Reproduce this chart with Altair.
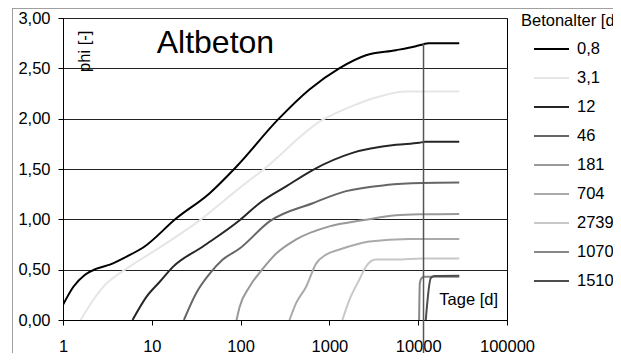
import altair as alt
import pandas as pd

# ---- data ----
ages = ["0,8", "3,1", "12", "46", "181", "704", "2739", "10702", "15105"]
colors = ["#000000", "#e6e6e6", "#262626", "#666666", "#999999",
          "#aaaaaa", "#c8c8c8", "#888888", "#4d4d4d"]

t_08 = [1, 1.31, 1.77, 2.39, 3.37, 5.2, 8.0, 18.9, 44.9, 89, 263, 596, 1290, 2580, 5620, 9400, 11500, 13000, 29000]
p_08 = [0.15, 0.33, 0.45, 0.51, 0.55, 0.63, 0.72, 1.01, 1.26, 1.52, 1.99, 2.29, 2.50, 2.63, 2.68, 2.72, 2.74, 2.75, 2.75]

t_31 = [1.58, 2.19, 2.84, 5.19, 11.3, 34.6, 97, 178, 842, 1540, 3660, 7260, 29000]
p_31 = [0.0, 0.20, 0.33, 0.51, 0.70, 0.99, 1.31, 1.49, 1.99, 2.10, 2.22, 2.27, 2.27]

t_12 = [6.07, 8.7, 12.3, 17.4, 37.7, 97.5, 163, 329, 648, 1820, 5620, 10250, 12000, 29000]
p_12 = [0.0, 0.23, 0.38, 0.53, 0.73, 0.99, 1.16, 1.33, 1.49, 1.66, 1.74, 1.76, 1.77, 1.77]

t_46 = [23, 31.8, 44.9, 63, 97.5, 212, 648, 1540, 4350, 11000, 29000]
p_46 = [0.0, 0.27, 0.46, 0.60, 0.71, 0.98, 1.16, 1.28, 1.34, 1.36, 1.365]

t_181 = [90, 97.5, 126, 178, 252, 422, 1000, 2370, 5600, 11000, 29000]
p_181 = [0.0, 0.13, 0.33, 0.51, 0.66, 0.80, 0.93, 0.99, 1.04, 1.05, 1.054]

t_704 = [355, 423, 547, 708, 918, 1300, 2820, 7900, 29000]
p_704 = [0.0, 0.17, 0.33, 0.56, 0.65, 0.70, 0.78, 0.805, 0.805]

t_2739 = [1400, 1680, 2170, 2580, 3320, 5600, 11200, 29000]
p_2739 = [0.0, 0.20, 0.40, 0.53, 0.60, 0.60, 0.61, 0.61]

t_10702 = [10240, 10430, 10800, 11700, 29000]
p_10702 = [0.0, 0.365, 0.41, 0.43, 0.43]

t_15105 = [12170, 13840, 15100, 29000]
p_15105 = [0.0, 0.415, 0.437, 0.44]

series_t = [t_08, t_31, t_12, t_46, t_181, t_704, t_2739, t_10702, t_15105]
series_p = [p_08, p_31, p_12, p_46, p_181, p_704, p_2739, p_10702, p_15105]

x_ticks = [1, 10, 100, 1000, 10000, 100000]
y_ticks = [0, 0.5, 1.0, 1.5, 2.0, 2.5, 3.0]

marker_t = 11480      # vertical marker line
marker_top = 2.745

rows = []
for k, (ts, ps) in enumerate(zip(series_t, series_p)):
    for i, (t, p) in enumerate(zip(ts, ps)):
        rows.append({"age": ages[k], "k": k, "i": i, "t": t, "phi": p})
df = pd.DataFrame(rows)

FONT = "Liberation Sans"
FS = 16.5

xscale = alt.Scale(type="log", domain=[1, 100000], nice=False)
yscale = alt.Scale(domain=[0, 3], nice=False, zero=False)

lines = alt.Chart(df).mark_line(strokeWidth=2, clip=True, interpolate="monotone").encode(
    x=alt.X("t:Q", scale=xscale,
            axis=alt.Axis(values=x_ticks, format="d", title=None, grid=False,
                          tickSize=5, labelPadding=13, labelFlush=False,
                          labelOverlap=False, domainColor="black", tickColor="black")),
    y=alt.Y("phi:Q", scale=yscale,
            axis=alt.Axis(values=y_ticks, title=None, grid=True, gridColor="#222222",
                          tickSize=5, labelPadding=8, labelFlush=False,
                          labelExpr="replace(format(datum.value, '.2f'), '.', ',')",
                          domainColor="black", tickColor="black")),
    color=alt.Color("age:N", sort=ages,
                    scale=alt.Scale(domain=ages, range=colors),
                    legend=alt.Legend(title="Betonalter [d]", orient="none",
                                      legendX=458, legendY=-5, padding=0,
                                      symbolType="stroke", symbolSize=1225,
                                      symbolStrokeWidth=2, clipHeight=29,
                                      rowPadding=0, titlePadding=5,
                                      symbolOffset=12, labelOffset=7,
                                      labelLimit=300)),
    detail="k:N",
    order="i:Q",
)

one = pd.DataFrame({"_": [0]})

marker = alt.Chart(one).mark_rule(color="#555555", strokeWidth=1.5).encode(
    x=alt.datum(marker_t), y=alt.datum(marker_top), y2=alt.datum(-0.45)
)

title_txt = alt.Chart(one).mark_text(text="Altbeton", font=FONT, fontSize=32,
                                     align="left", baseline="alphabetic",
                                     color="black").encode(
    x=alt.datum(11.36), y=alt.datum(2.651))

xlab = alt.Chart(one).mark_text(text="Tage [d]", font=FONT, fontSize=FS,
                                align="left", baseline="alphabetic",
                                color="black").encode(
    x=alt.datum(17290), y=alt.datum(0.151))

ylab = alt.Chart(one).mark_text(text="phi [-]", font=FONT, fontSize=FS,
                                align="center", baseline="middle", angle=270,
                                color="black").encode(
    x=alt.datum(1.79), y=alt.datum(2.669))

frame_left = alt.Chart(one).mark_rule(color="#a0a0a0", strokeWidth=1).encode(
    x=alt.value(-50.5), y=alt.value(-12), y2=alt.value(400))
frame_top = alt.Chart(one).mark_rule(color="#a0a0a0", strokeWidth=1).encode(
    x=alt.value(-50.5), x2=alt.value(700), y=alt.value(-9.5))

chart = alt.layer(frame_left, frame_top, lines, marker, title_txt, xlab, ylab).properties(
    width=444, height=302,
    autosize=alt.AutoSizeParams(type="none"),
    padding={"left": 55, "top": 10, "right": 106, "bottom": 33},
    background="white",
).configure_view(
    stroke="black", strokeWidth=1
).configure_axis(
    labelFont=FONT, labelFontSize=FS, labelColor="black"
).configure_legend(
    labelFont=FONT, labelFontSize=FS, labelColor="black",
    titleFont=FONT, titleFontSize=FS, titleFontWeight="normal", titleColor="black"
)

chart.save("out.html", embed_options={"renderer": "svg", "actions": False})
